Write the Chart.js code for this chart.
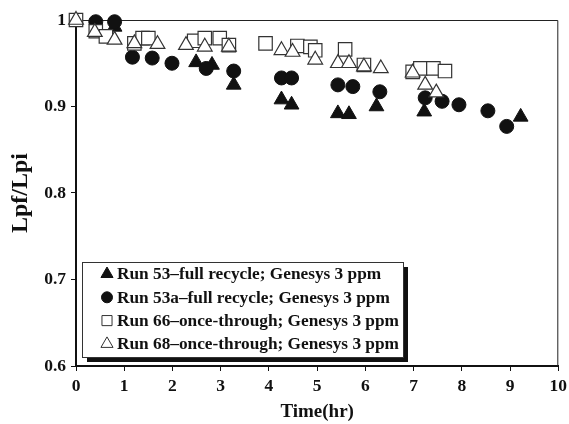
<!DOCTYPE html>
<html>
<head>
<meta charset="utf-8">
<script src="https://cdn.jsdelivr.net/npm/chart.js@4"></script>
<style>
  html, body { margin: 0; padding: 0; background: #fff; }
  canvas { display: block; }
</style>
</head>
<body>
<canvas id="myChart" width="569" height="424"></canvas>
<script>
// data (time in hr, Lpf/Lpi)
var run53Time = [0.8, 2.49, 2.82, 3.27, 4.26, 4.47, 5.43, 5.66, 6.23, 7.22, 9.22];
var run53Val  = [0.992, 0.951, 0.948, 0.925, 0.908, 0.902, 0.892, 0.891, 0.9, 0.894, 0.888];

var run53aTime = [0.41, 0.8, 1.17, 1.58, 1.99, 2.7, 3.27, 4.26, 4.47, 5.43, 5.74, 6.3, 7.24, 7.59, 7.94, 8.54, 8.93];
var run53aVal  = [0.998, 0.998, 0.957, 0.956, 0.95, 0.944, 0.941, 0.933, 0.933, 0.925, 0.923, 0.917, 0.91, 0.906, 0.902, 0.895, 0.877];

var run66Time = [0, 0.41, 0.62, 1.21, 1.38, 1.5, 2.45, 2.67, 2.98, 3.17, 3.93, 4.59, 4.86, 4.96, 5.58, 5.97, 6.98, 7.14, 7.41, 7.65];
var run66Val  = [1.0, 0.987, 0.981, 0.973, 0.979, 0.979, 0.976, 0.979, 0.979, 0.971, 0.973, 0.97, 0.969, 0.965, 0.966, 0.948, 0.94, 0.944, 0.944, 0.941];

var run68Time = [0, 0.39, 0.8, 1.21, 1.69, 2.28, 2.67, 3.17, 4.26, 4.49, 4.96, 5.43, 5.66, 5.97, 6.32, 6.98, 7.24, 7.47];
var run68Val  = [1.0, 0.986, 0.977, 0.973, 0.972, 0.971, 0.969, 0.969, 0.965, 0.963, 0.954, 0.95, 0.95, 0.946, 0.944, 0.939, 0.925, 0.916];

var seriesNames = [
  'Run 53\u2013full recycle; Genesys 3 ppm',
  'Run 53a\u2013full recycle; Genesys 3 ppm',
  'Run 66\u2013once-through; Genesys 3 ppm',
  'Run 68\u2013once-through; Genesys 3 ppm'
];

var xTickLabels = ['0', '1', '2', '3', '4', '5', '6', '7', '8', '9', '10'];
var yTickLabels = ['0.6', '0.7', '0.8', '0.9', '1'];

var serif = '"Liberation Serif", "Times New Roman", serif';

function toPoints(xs, ys) {
  return xs.map(function (x, i) { return { x: x, y: ys[i] }; });
}

// small marker drawer for the boxed legend
function marker(ctx, style, filled, x, y, r) {
  ctx.beginPath();
  if (style === 'triangle') {
    ctx.moveTo(x, y - r);
    ctx.lineTo(x + r * 0.866, y + r * 0.5);
    ctx.lineTo(x - r * 0.866, y + r * 0.5);
    ctx.closePath();
  } else if (style === 'circle') {
    ctx.arc(x, y, r, 0, Math.PI * 2);
  } else {
    var s = r * 0.72;
    ctx.rect(x - s, y - s, 2 * s, 2 * s);
  }
  ctx.fillStyle = filled ? '#111' : '#fff';
  ctx.fill();
  ctx.lineWidth = 1;
  ctx.strokeStyle = filled ? '#111' : '#333';
  ctx.stroke();
}

var framePlugin = {
  id: 'frame',
  beforeDatasetsDraw: function (chart) {
    var a = chart.chartArea, ctx = chart.ctx;
    ctx.save();
    ctx.strokeStyle = '#222';
    ctx.lineWidth = 1;
    ctx.beginPath();
    ctx.moveTo(a.left, a.top + 0.5);
    ctx.lineTo(a.right - 0.5, a.top + 0.5);
    ctx.lineTo(a.right - 0.5, a.bottom);
    ctx.stroke();
    ctx.restore();
  }
};

var boxLegend = {
  id: 'boxLegend',
  afterDraw: function (chart) {
    var a = chart.chartArea, ctx = chart.ctx;
    var left = a.left + 6, bottom = a.bottom - 9;
    var w = 321, h = 95, top = bottom - h;
    ctx.save();
    // shadow
    ctx.fillStyle = '#111';
    ctx.fillRect(left + 5, top + 5, w, h);
    ctx.fillStyle = '#fff';
    ctx.fillRect(left, top, w, h);
    ctx.strokeStyle = '#333';
    ctx.lineWidth = 1;
    ctx.strokeRect(left + 0.5, top + 0.5, w, h);

    var styles = [['triangle', true], ['circle', true], ['rect', false], ['triangle', false]];
    ctx.font = 'bold 17.3px ' + serif;
    ctx.textBaseline = 'middle';
    for (var i = 0; i < seriesNames.length; i++) {
      var cy = top + 12 + i * 23.3;
      marker(ctx, styles[i][0], styles[i][1], left + 25, cy, styles[i][0] === 'circle' ? 5.5 : 7);
      ctx.fillStyle = '#111';
      ctx.fillText(seriesNames[i], left + 35, cy + 1);
    }
    ctx.restore();
  }
};

var ctx = document.getElementById('myChart').getContext('2d');

var myChart = new Chart(ctx, {
  type: 'scatter',
  data: {
    datasets: [{
      label: seriesNames[3],
      data: toPoints(run68Time, run68Val),
      pointStyle: 'triangle',
      pointRadius: 8.5,
      backgroundColor: '#fff',
      borderColor: '#333',
      borderWidth: 1.2,
      order: 0
    },
    {
      label: seriesNames[2],
      data: toPoints(run66Time, run66Val),
      pointStyle: 'rect',
      pointRadius: 9.5,
      backgroundColor: '#fff',
      borderColor: '#333',
      borderWidth: 1.2,
      order: 1
    },
    {
      label: seriesNames[1],
      data: toPoints(run53aTime, run53aVal),
      pointStyle: 'circle',
      pointRadius: 7,
      backgroundColor: '#111',
      borderColor: '#111',
      borderWidth: 1,
      order: 2
    },
    {
      label: seriesNames[0],
      data: toPoints(run53Time, run53Val),
      pointStyle: 'triangle',
      pointRadius: 8.5,
      backgroundColor: '#111',
      borderColor: '#111',
      borderWidth: 1,
      order: 3
    }]
  },
  options: {
    responsive: false,
    animation: false,
    devicePixelRatio: 1,
    clip: false,
    layout: { padding: { top: 20, right: 10, left: 0, bottom: 0 } },
    plugins: {
      legend: { display: false },
      tooltip: { enabled: false }
    },
    elements: { point: { hoverRadius: 7 } },
    scales: {
      x: {
        type: 'linear',
        min: 0,
        max: 10,
        afterFit: function (s) {
          s.height = 58;
          s.paddingRight = 0;
          s.paddingLeft = 0;
        },
        ticks: {
          stepSize: 1,
          padding: 5,
          color: '#111',
          font: { family: serif, size: 17.5, weight: 'bold' },
          callback: function (v, i) { return xTickLabels[i]; }
        },
        grid: { drawOnChartArea: false, drawTicks: true, tickLength: 5, color: '#111', lineWidth: 1 },
        border: { display: true, color: '#111', width: 2 },
        title: {
          display: true,
          text: 'Time(hr)',
          color: '#111',
          font: { family: serif, size: 19, weight: 'bold' },
          padding: { top: 0, bottom: 1 }
        }
      },
      y: {
        min: 0.6,
        max: 1,
        afterFit: function (s) { s.width = 76; },
        ticks: {
          stepSize: 0.1,
          padding: 5,
          color: '#111',
          font: { family: serif, size: 17.5, weight: 'bold' },
          callback: function (v, i) { return yTickLabels[i]; }
        },
        grid: { drawOnChartArea: false, drawTicks: true, tickLength: 5, color: '#111', lineWidth: 1 },
        border: { display: true, color: '#111', width: 2 },
        title: {
          display: true,
          text: 'Lpf/Lpi',
          color: '#111',
          font: { family: serif, size: 24, weight: 'bold' },
          padding: { top: 6, bottom: 0 }
        }
      }
    }
  },
  plugins: [framePlugin, boxLegend]
});
</script>
</body>
</html>
